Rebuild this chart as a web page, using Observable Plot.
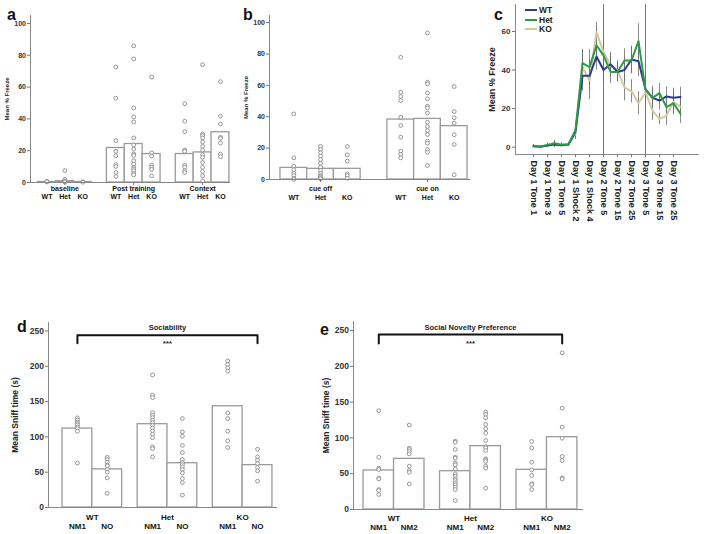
<!DOCTYPE html>
<html><head><meta charset="utf-8">
<script src="https://cdn.jsdelivr.net/npm/d3@7"></script>
<script src="https://cdn.jsdelivr.net/npm/@observablehq/plot@0.6"></script>
<style>
body{margin:0;background:#fff;}
#root{position:relative;width:704px;height:534px;overflow:hidden;font-family:"Liberation Sans",Arial,sans-serif;}
#root svg{position:absolute;overflow:visible;}
.letter{position:absolute;font:bold 16px "Liberation Sans",Arial,sans-serif;line-height:16px;color:#111;}
.leg{position:absolute;font:bold 8.5px "Liberation Sans",Arial,sans-serif;line-height:9px;color:#222;}
.sw{display:inline-block;width:12px;height:2px;vertical-align:middle;margin-right:2px;}
</style></head><body><div id="root"></div>
<script>
// ---------- Panel a: fear conditioning (% freeze) ----------
const aGroups = ["baseline", "Post training", "Context"];
const genotypes = ["WT", "Het", "KO"];
const aMeans = [[0.3, 0.8, 0.3], [21.7, 24.2, 17.9], [17.9, 18.9, 31.6]];
const aDotsBaseline = [[0.3, 0.8, 0.5], [7.5, 2, 1, 0.5, 0.3], [0.5, 0.2]];
const aDotsPost = [
  [72.6, 53, 26.3, 19.6, 16.8, 11.2, 10.1, 6.3, 3.8],
  [85.9, 77.7, 46.9, 41.3, 38.1, 28, 23.6, 21, 17.9, 17, 13.7, 11.6, 9.5, 8.6, 7.4, 5.7, 4.8],
  [66.3, 18.7, 16.6, 10.9, 9.5, 8.2, 4.2]];
const aDotsContext = [
  [49.5, 38.5, 32, 20.4, 19.6, 10.9, 9.5, 7.4, 6.3],
  [74.1, 30.5, 29.5, 28, 25.5, 22.7, 20.4, 17.5, 15.8, 12.6, 9.5, 6.9, 4.2, 1],
  [63.4, 41.7, 36.8, 28.4, 27.8, 24.8, 17.9, 16.2]];
const freezeTicks = [0, 20, 40, 60, 80, 100];

// ---------- Panel b: cued freezing ----------
const bGroups = ["cue off", "cue on"];
const bMeans = [[7.4, 6.8, 6.8], [38.2, 38.6, 34]];
const bDotsOff = [
  [41.8, 13.8, 8.5, 6.2, 4, 2.5, 0.8, 0],
  [21, 19.1, 17, 14.9, 12.7, 10.2, 7.9, 5.7, 4, 2.5, 1.9, 1.1, 0.4],
  [21, 15.7, 11.7, 3.6, 2.5, 0.8]];
const bDotsOn = [
  [77.9, 55.6, 52.9, 50.3, 39.7, 34.4, 27, 18, 15.9, 13.8],
  [93.4, 62, 60.9, 55.2, 51.4, 46.7, 45.6, 42.3, 36.5, 33.8, 31.2, 28.7, 24.4, 23.1, 19.1, 17.4, 8.9],
  [59.2, 43.3, 39.3, 35.9, 28.5, 22.3, 3]];

// ---------- Panel c: time course ----------
const cCategories = [
  "Day 1 Tone 1", "Day 1 Tone 2", "Day 1 Tone 3", "Day 1 Tone 4", "Day 1 Tone 5",
  "Day 1 Shock 1", "Day 1 Shock 2", "Day 1 Shock 3", "Day 1 Shock 4", "Day 1 Shock 5",
  "Day 2 Tone 5", "Day 2 Tone 10", "Day 2 Tone 15", "Day 2 Tone 20", "Day 2 Tone 25", "Day 2 Tone 30",
  "Day 3 Tone 5", "Day 3 Tone 10", "Day 3 Tone 15", "Day 3 Tone 20", "Day 3 Tone 25", "Day 3 Tone 30"];
const cSeries = ["WT", "Het", "KO"];
const cColors = ["#2d3b8e", "#2f9a48", "#d3c9a0"];
const cWT  = [0.5, 0.2, 0.9, 1.4, 1, 1.4, 8, 37, 37, 47, 40, 43, 39, 40, 45.5, 44.6, 30, 25.6, 24.2, 26.3, 25.6, 26];
const cHet = [0.8, 0.3, 1.2, 2, 1.3, 1.5, 9, 43.6, 41.5, 52.8, 47.6, 39, 39, 45, 45, 55, 29.8, 25.6, 28, 20.8, 22.8, 17.3];
const cKO  = [0.5, 0.3, 1, 1.5, 1.2, 1.4, 7, 41.5, 34.6, 59.7, 49.3, 42.4, 39.8, 31, 29, 22.8, 28.5, 19, 14.7, 16.4, 23.4, 21];
const cErrWT  = [0.5, 0.4, 0.8, 1.5, 0.8, 1, 3, 8, 8, 7, 7, 6, 5, 6, 7, 8, 6, 5, 5, 5, 5, 5];
const cErrHet = [0.5, 0.4, 1, 1.5, 1, 1, 3, 7, 9, 8, 9, 6, 5, 6, 7, 9, 6, 6, 5, 5, 6, 5];
const cErrKO  = [0.5, 0.4, 0.8, 1.2, 0.8, 1, 3, 9, 10, 5, 8, 6, 5, 7, 6, 6, 6, 5, 3, 5, 6, 5];
const cDividers = ["Day 2 Tone 5", "Day 3 Tone 5"];
const cTicks = [0, 20, 40, 60];

// ---------- Panel d: sociability ----------
const dSubs = ["NM1", "NO"];
const dMeans = [[111.8, 54], [118, 62.7], [143.4, 60]];
const dDots = [
  [[127, 124, 121, 119, 117, 114, 112, 108, 63], [71, 68, 64, 60, 59, 54, 50, 42, 20]],
  [[187.7, 159, 155.7, 134.4, 130.7, 127.4, 123.6, 120.3, 116.5, 112.7, 108.5, 103.8, 99, 85.8, 83.5, 71.7],
   [126, 107, 101, 88, 77.8, 68, 63.7, 61, 57.5, 53.8, 49, 41, 35.4, 17.5]],
  [[207.5, 202.4, 197.6, 193, 134, 126, 108, 94.3, 85], [82.5, 71.7, 67, 62.3, 56.6, 51.9, 37.3]]];
const dBracket = {from: [0, 0], to: [2, 1], top: 244, leg: 232.6, label: "Sociability", labelY: 255.3, stars: "***", starsY: 232};

// ---------- Panel e: social novelty ----------
const eSubs = ["NM1", "NM2"];
const eMeans = [[54.5, 70.8], [53.5, 88.5], [55.4, 101]];
const eDots = [
  [[138, 73, 57.7, 55.9, 43.8, 42.8, 27.9, 26.5, 21], [118, 85.7, 83.8, 81, 77.7, 60.5, 54.5, 52, 35.8]],
  [[95.4, 94, 83.8, 73, 71.7, 64.7, 62.4, 56.8, 49.8, 46.6, 42.8, 40.5, 37.2, 34.4, 31.2, 27.9, 12.6],
   [136, 132.7, 128, 118.7, 112.7, 106.6, 96.4, 88, 86.1, 82.4, 70.8, 69.4, 67, 60.5, 57.7, 29.8]],
  [[95, 86, 66, 55.4, 47.5, 35.8, 34.9, 27.9], [218.8, 141.5, 115, 99.6, 74, 68.4, 44.2, 42.8]]];
const eBracket = {from: [0, 0], to: [2, 1], top: 244.4, leg: 231.8, label: "Social Novelty Preference", labelY: 254, stars: "***", starsY: 232};
const sniffTicks = [0, 50, 100, 150, 200, 250];

const FONT = "'Liberation Sans', Arial, Helvetica, sans-serif";
const root = document.getElementById("root");

function place(el, left, top) { el.style.left = left + "px"; el.style.top = top + "px"; root.appendChild(el); }

function barPanel(c) {
  const n = c.subs.length;
  const pos = (gi, si) => gi * (n + c.gap) + si;
  const bars = [], pts = [], subLab = new Map(), gLab = new Map();
  c.groups.forEach((g, gi) => {
    gLab.set(pos(gi, (n - 1) / 2), g);
    c.subs.forEach((s, si) => {
      const p = pos(gi, si);
      bars.push({pos: p, v: c.means[gi][si]});
      subLab.set(p, s);
      c.dots[gi][si].forEach(v => pts.push({pos: p, v}));
    });
  });
  const xDomain = [pos(0, 0) - 0.5 - c.lead, pos(c.groups.length - 1, n - 1) + 0.5 + c.trail];
  const marks = [
    Plot.rectY(bars, {x1: d => d.pos - 0.5, x2: d => d.pos + 0.5, y: "v", fill: "white", stroke: "#9a9a9a", strokeWidth: 1.3}),
    Plot.dot(pts, {x: "pos", y: "v", r: 1.9, stroke: "#8a8a8a", strokeWidth: 0.9, fill: "white"}),
    Plot.ruleX([xDomain[0]], {stroke: "#888"}),
    Plot.ruleY([c.yDomain[0]], {stroke: "#888"}),
    Plot.axisY({ticks: c.yTicks, tickSize: 3, tickPadding: 1.5, fontSize: c.tickFont, label: null, stroke: "#777", fill: "#333"}),
    Plot.axisX({ticks: [...subLab.keys()], tickFormat: d => subLab.get(d), tickSize: 0, tickPadding: c.subPad, fontSize: c.labelFont, label: null, fill: "#111"}),
    Plot.axisX({ticks: [...gLab.keys()], tickFormat: d => gLab.get(d), tickSize: c.groupTick, tickPadding: c.groupPad, fontSize: c.labelFont, label: null, stroke: "#777", fill: "#111"}),
    Plot.text([c.title], {frameAnchor: "left", textAnchor: "middle", rotate: -90, dx: c.titleDx, fontSize: c.titleFont, fill: "#222"})
  ];
  if (c.bracket) {
    const b = c.bracket;
    const xa = pos(...b.from), xb = pos(...b.to);
    marks.push(Plot.line([{x: xa, y: b.leg}, {x: xa, y: b.top}, {x: xb, y: b.top}, {x: xb, y: b.leg}], {x: "x", y: "y", stroke: "#111", strokeWidth: 2}));
    marks.push(Plot.text([{x: (xa + xb) / 2, y: b.labelY, t: b.label}, {x: (xa + xb) / 2, y: b.starsY, t: b.stars}], {x: "x", y: "y", text: "t", fontSize: 7.5, fill: "#222"}));
  }
  const svg = Plot.plot({
    width: c.width, height: c.height,
    marginLeft: c.m[0], marginTop: c.m[1], marginRight: c.m[2], marginBottom: c.m[3],
    style: {fontFamily: FONT, fontWeight: "bold", background: "transparent"},
    x: {domain: xDomain, label: null},
    y: {domain: c.yDomain, label: null},
    marks
  });
  place(svg, c.left, c.top);
}

barPanel({left: 0, top: 0, width: 240, height: 205, m: [30, 15, 10, 23],
  groups: aGroups, subs: genotypes, means: aMeans, dots: [aDotsBaseline, aDotsPost, aDotsContext],
  gap: 0.85, lead: 0.42, trail: 0.06, yDomain: [0, 105], yTicks: freezeTicks, tickFont: 7,
  labelFont: 7, groupTick: 3, groupPad: 0.5, subPad: 12, title: "Mean % Freeze", titleFont: 6, titleDx: -23});

barPanel({left: 240, top: 0, width: 230, height: 205, m: [29, 15, 0, 26],
  groups: bGroups, subs: genotypes, means: bMeans, dots: [bDotsOff, bDotsOn],
  gap: 1, lead: 0.41, trail: 0.11, yDomain: [0, 104.5], yTicks: freezeTicks, tickFont: 7,
  labelFont: 7, groupTick: 3, groupPad: 3.5, subPad: 15.5, title: "Mean % Freeze", titleFont: 6, titleDx: -23});

barPanel({left: 0, top: 300, width: 290, height: 234, m: [48, 22, 13, 27],
  groups: genotypes, subs: dSubs, means: dMeans, dots: dDots,
  gap: 0.52, lead: 0.47, trail: 0.17, yDomain: [0, 262], yTicks: sniffTicks, tickFont: 8.5,
  labelFont: 8, groupTick: 0, groupPad: 7, subPad: 16, title: "Mean Sniff time (s)", titleFont: 8.5, titleDx: -33,
  bracket: dBracket});

barPanel({left: 290, top: 300, width: 414, height: 234, m: [63, 21, 121, 25],
  groups: genotypes, subs: eSubs, means: eMeans, dots: eDots,
  gap: 0.51, lead: 0.33, trail: 0.2, yDomain: [0, 262.6], yTicks: sniffTicks, tickFont: 8.5,
  labelFont: 8, groupTick: 0, groupPad: 5.5, subPad: 14.5, title: "Mean Sniff time (s)", titleFont: 8.5, titleDx: -27,
  bracket: eBracket});

// ---------- Panel c ----------
const cValues = {WT: cWT, Het: cHet, KO: cKO};
const cErrors = {WT: cErrWT, Het: cErrHet, KO: cErrKO};
const cData = [];
["KO", "WT", "Het"].forEach(s => cCategories.forEach((t, i) => cData.push({s, t, v: cValues[s][i], e: cErrors[s][i]})));
const cSvg = Plot.plot({
  width: 234, height: 260, marginLeft: 45, marginTop: 4, marginRight: 6, marginBottom: 106,
  style: {fontFamily: FONT, fontWeight: "bold", background: "transparent"},
  x: {type: "point", domain: cCategories, padding: 1.6, label: null},
  y: {domain: [-3.8, 74], label: null},
  color: {domain: cSeries, range: cColors},
  marks: [
    Plot.ruleX(cDividers, {stroke: "#777"}),
    Plot.ruleX(cData, {x: "t", y1: d => d.v - d.e, y2: d => d.v + d.e, stroke: "#6a6a6a", strokeWidth: 0.8}),
    Plot.line(cData, {x: "t", y: "v", z: "s", stroke: "s", strokeWidth: 2}),
    Plot.frame({anchor: "left", stroke: "#888"}),
    Plot.frame({anchor: "bottom", stroke: "#888"}),
    Plot.axisY({ticks: cTicks, tickSize: 3, tickPadding: 2, fontSize: 8, label: null, stroke: "#777", fill: "#333"}),
    Plot.axisX({ticks: cCategories.filter((d, i) => i % 2 === 0), tickRotate: 90, tickSize: 3, tickPadding: 3, fontSize: 9, label: null, stroke: "#777", fill: "#222"}),
    Plot.text(["Mean % Freeze"], {frameAnchor: "left", textAnchor: "middle", rotate: -90, dx: -23, fontSize: 9, fill: "#222"})
  ]
});
place(cSvg, 470, 0);

// legend for c
cSeries.forEach((s, i) => {
  const d = document.createElement("div");
  d.className = "leg";
  d.innerHTML = `<span class="sw" style="background:${cColors[i]}"></span>${s}`;
  place(d, 525, [5.5, 15.5, 24.5][i]);
});

// panel letters
[["a", 7, 6.5], ["b", 243, 6.5], ["c", 494, 6.5], ["d", 17, 318.5], ["e", 320, 321.5]].forEach(([t, x, y]) => {
  const d = document.createElement("div");
  d.className = "letter"; d.textContent = t; place(d, x, y);
});
</script></body></html>
